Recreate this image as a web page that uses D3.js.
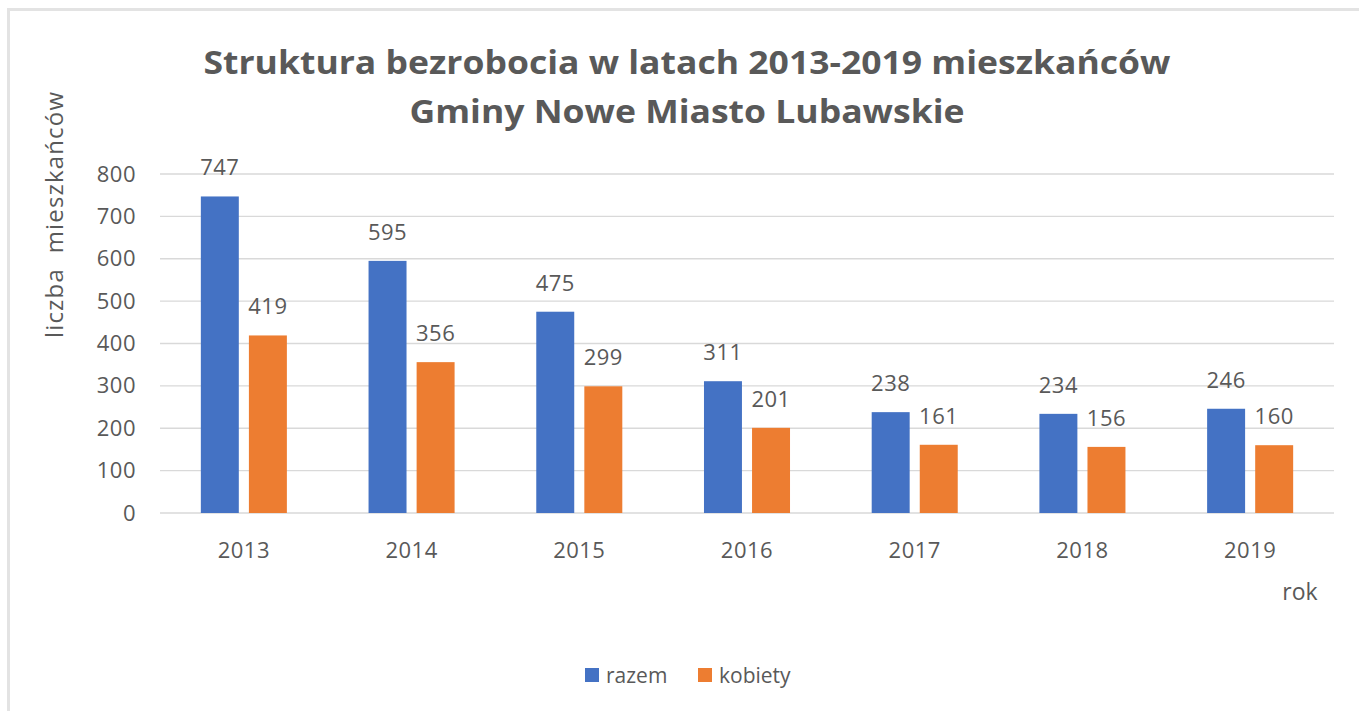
<!DOCTYPE html>
<html><head><meta charset="utf-8">
<script src="https://cdnjs.cloudflare.com/ajax/libs/d3/7.8.5/d3.min.js"></script>
<style>body{margin:0;background:#fff}svg{display:block}</style>
</head><body><svg id="c" width="1359" height="711"></svg>
<script>
const years = ["2013","2014","2015","2016","2017","2018","2019"];
const seriesNames = ["razem","kobiety"];
const razem = [747,595,475,311,238,234,246];
const kobiety = [419,356,299,201,161,156,160];
const yTicks = [0,100,200,300,400,500,600,700,800];
const colors = ["#4472C4","#ED7D31"];
const txt = "#595959";
const font = "'Open Sans', sans-serif";

const svg = d3.select("#c");
// frame edges (top and left only, as in the reference)
svg.append("line").attr("x1",7).attr("x2",1359).attr("y1",9.5).attr("y2",9.5)
  .attr("stroke","#e3e3e3").attr("stroke-width",3);
svg.append("line").attr("x1",8.5).attr("x2",8.5).attr("y1",8).attr("y2",711)
  .attr("stroke","#e3e3e3").attr("stroke-width",3);

const pLeft=160, pRight=1334, pTop=174, pBottom=513;
const x = d3.scaleBand().domain(years).range([pLeft,pRight]).paddingInner(0.487).paddingOuter(0.2435);
const x1 = d3.scaleBand().domain(seriesNames).range([0,x.bandwidth()]).paddingInner(0.21);
const y = d3.scaleLinear().domain([0,800]).range([pBottom,pTop]);

// grid
svg.append("g").selectAll("line").data(yTicks).join("line")
  .attr("x1",pLeft).attr("x2",pRight).attr("y1",d=>y(d)).attr("y2",d=>y(d))
  .attr("stroke","#d9d9d9").attr("stroke-width",1.3);

// y axis labels
const ya = svg.append("g").attr("transform",`translate(${pLeft-24},0)`)
  .call(d3.axisLeft(y).tickValues(yTicks).tickSize(0).tickPadding(0));
ya.select(".domain").remove();
ya.selectAll("text").attr("font-family",font).attr("font-size",22).attr("fill",txt)
  .attr("letter-spacing","0.5px");

// x axis labels
const xa = svg.append("g").attr("transform",`translate(0,${pBottom+29})`)
  .call(d3.axisBottom(x).tickSize(0).tickPadding(0));
xa.select(".domain").remove();
xa.selectAll("text").attr("font-family",font).attr("font-size",22).attr("fill",txt).attr("dy","0.71em")
  .attr("letter-spacing","0.5px");

const data = years.map((yr,i)=>({year:yr, vals:[{k:"razem",v:razem[i]},{k:"kobiety",v:kobiety[i]}]}));
const g = svg.append("g").selectAll("g").data(data).join("g")
  .attr("transform",d=>`translate(${x(d.year)},0)`);
g.selectAll("rect").data(d=>d.vals).join("rect")
  .attr("x",d=>x1(d.k)).attr("width",x1.bandwidth())
  .attr("y",d=>y(d.v)).attr("height",d=>pBottom-y(d.v))
  .attr("fill",(d,i)=>colors[i]);
g.selectAll("text").data(d=>d.vals).join("text")
  .attr("x",d=>x1(d.k)+x1.bandwidth()/2).attr("y",d=>y(d.v)-21)
  .attr("text-anchor","middle").attr("font-family",font).attr("font-size",22).attr("fill",txt)
  .attr("letter-spacing","0.5px")
  .text(d=>d.v);

// title
svg.append("text").attr("x",687).attr("y",74).attr("text-anchor","middle")
  .attr("font-family",font).attr("font-weight","bold").attr("font-size",32).attr("fill",txt)
  .attr("textLength",967).attr("lengthAdjust","spacingAndGlyphs")
  .text("Struktura bezrobocia w latach 2013-2019 mieszkańców");
svg.append("text").attr("x",687).attr("y",123).attr("text-anchor","middle")
  .attr("font-family",font).attr("font-weight","bold").attr("font-size",32).attr("fill",txt)
  .attr("textLength",555).attr("lengthAdjust","spacingAndGlyphs")
  .text("Gminy Nowe Miasto Lubawskie");

// axis titles
svg.append("text").attr("transform","translate(63,215) rotate(-90)").attr("text-anchor","middle")
  .attr("font-family",font).attr("font-size",24).attr("fill",txt).attr("xml:space","preserve")
  .attr("textLength",246).attr("lengthAdjust","spacing")
  .text("liczba  mieszkańców");
svg.append("text").attr("x",1300).attr("y",600).attr("text-anchor","middle")
  .attr("font-family",font).attr("font-size",23).attr("fill",txt).text("rok");

// legend
const leg = svg.append("g").selectAll("g").data(seriesNames).join("g")
  .attr("transform",(d,i)=>`translate(${585+i*113},668)`);
leg.append("rect").attr("width",14).attr("height",14).attr("fill",(d,i)=>colors[i]);
leg.append("text").attr("x",21).attr("y",15).attr("font-family",font).attr("font-size",21)
  .attr("fill",txt).text(d=>d);
</script></body></html>
